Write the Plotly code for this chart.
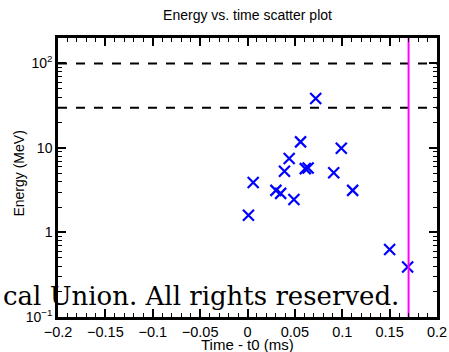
import plotly.graph_objects as go

time_ms = [0.072, 0.056, 0.099, 0.044, 0.039, 0.061, 0.064, 0.091, 0.006, 0.030, 0.035, 0.111, 0.049, 0.001, 0.150, 0.169]
energy_mev = [38.5, 11.8, 9.9, 7.5, 5.3, 5.7, 5.8, 5.1, 3.9, 3.15, 2.9, 3.15, 2.45, 1.6, 0.63, 0.39]
threshold_levels = [100, 30]
cutoff_time = 0.17
x_ticks = [-0.2, -0.15, -0.1, -0.05, 0, 0.05, 0.1, 0.15, 0.2]
x_tick_labels = ["−0.2", "−0.15", "−0.1", "−0.05", "0", "0.05", "0.1", "0.15", "0.2"]
y_ticks = [0.1, 1, 10, 100]
y_tick_labels = ["10<sup>−1</sup>", "1", "10", "10<sup>2</sup>"]

y_minor = [m * d for d in (0.1, 1, 10, 100) for m in range(2, 10) if m * d <= 200]

fig = go.Figure()
fig.add_trace(go.Scatter(
    x=time_ms, y=energy_mev, mode="markers",
    marker=dict(symbol="x-thin", size=11, line=dict(color="#0000ff", width=2.2), color="#0000ff"),
    showlegend=False,
))
for lvl in threshold_levels:
    fig.add_trace(go.Scatter(
        x=[-0.2, 0.2], y=[lvl, lvl], mode="lines",
        line=dict(color="black", width=2, dash="dash"), showlegend=False,
    ))
fig.add_trace(go.Scatter(
    x=[cutoff_time, cutoff_time], y=[0.1, 200], mode="lines",
    line=dict(color="#ff00ff", width=2), showlegend=False,
))

font = "Liberation Sans, Arial, sans-serif"
fig.update_layout(
    width=449, height=352,
    margin=dict(l=58, r=12, t=38, b=35),
    paper_bgcolor="white", plot_bgcolor="white",
    title=dict(text="Energy vs. time scatter plot", xref="paper", x=0.5, xanchor="center",
               yref="container", y=0.958, yanchor="middle",
               font=dict(family=font, size=14, color="black")),
    font=dict(family=font, color="black"),
    xaxis=dict(
        range=[-0.2, 0.2], tickvals=x_ticks, ticktext=x_tick_labels,
        ticks="inside", ticklen=8, tickwidth=1.5, tickcolor="black",
        minor=dict(ticks="inside", ticklen=4, dtick=0.01, tick0=0, tickcolor="black", tickwidth=1.2, showgrid=False),
        showline=True, linecolor="black", linewidth=2.5, mirror="allticks",
        showgrid=False, zeroline=False, automargin=False,
        tickfont=dict(size=14.5, family=font),
    ),
    yaxis=dict(
        type="log", range=[-1, 2.30103], tickvals=y_ticks, ticktext=y_tick_labels,
        ticks="inside", ticklen=8, tickwidth=1.5, tickcolor="black",
        minor=dict(ticks="inside", ticklen=4, tickvals=y_minor, tickcolor="black", tickwidth=1.2, showgrid=False),
        showline=True, linecolor="black", linewidth=2.5, mirror="allticks",
        showgrid=False, zeroline=False, automargin=False,
        tickfont=dict(size=14, family=font),
    ),
    annotations=[
        dict(text="Time - t0 (ms)", xref="paper", yref="paper", x=0.5, y=-0.097,
             xanchor="center", yanchor="middle", showarrow=False,
             font=dict(family=font, size=15, color="black")),
        dict(text="Energy (MeV)", xref="paper", yref="paper", x=-0.103, y=0.514,
             xanchor="center", yanchor="middle", showarrow=False, textangle=-90,
             font=dict(family=font, size=14, color="black")),
        dict(text="cal Union. All rights reserved.", xref="paper", yref="paper",
             x=0.906, y=0.076, xanchor="right", yanchor="middle", showarrow=False,
             font=dict(family="DejaVu Serif, Liberation Serif, serif", size=26, color="black")),
    ],
)

fig.write_html("out.html")
